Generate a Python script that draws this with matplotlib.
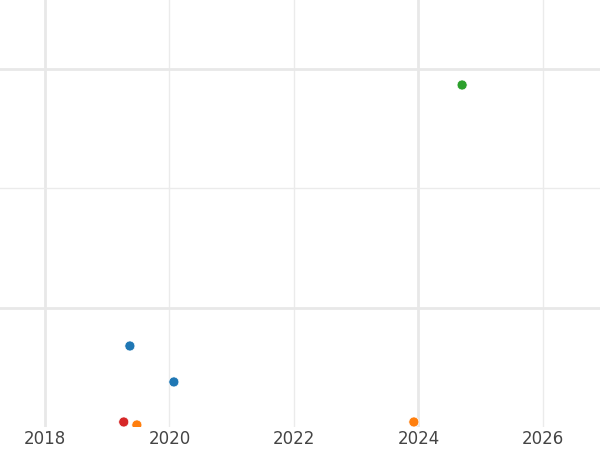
import matplotlib
matplotlib.use("Agg")
import matplotlib.pyplot as plt
import pandas as pd

plt.rcParams['font.family'] = ['DejaVu Sans']

# data
dates = ["2019-04-08", "2019-06-24", "2019-05-14", "2020-01-27", "2023-12-05", "2024-09-13"]
values = [0.042, 0.017, 0.678, 0.377, 0.042, 2.862]
colors = ["#d62728", "#ff7f0e", "#1f77b4", "#1f77b4", "#ff7f0e", "#2ca02c"]
x_ticks = ["2018-01-01", "2020-01-01", "2022-01-01", "2024-01-01", "2026-01-01"]
x_tick_labels = ["2018", "2020", "2022", "2024", "2026"]
y_ticks = [1, 2, 3]

fig = plt.figure(figsize=(6, 4.5), dpi=100)
ax = fig.add_axes([0, 23/450, 1, 427/450])

xd = pd.to_datetime(dates)
ax.scatter(xd, values, c=colors, s=52, edgecolors="white", linewidths=0.5, zorder=3, clip_on=True)

ax.set_xlim(pd.Timestamp("2017-04-12"), pd.Timestamp("2026-12-01"))
ax.set_ylim(0, 427/119.5)
ax.set_xticks(pd.to_datetime(x_ticks))
ax.set_xticklabels(x_tick_labels)
ax.set_yticks(y_ticks)
ax.set_yticklabels([])
ax.tick_params(axis="both", length=0)
ax.tick_params(axis="x", labelsize=12, labelcolor="#444444", pad=2.5)
for s in ax.spines.values():
    s.set_visible(False)
ax.grid(True, color="#ebebeb", linewidth=1.0, zorder=0)
ax.set_axisbelow(True)
xg = ax.xaxis.get_gridlines()
for i in (0, 3):
    xg[i].set_linewidth(2.0)
    xg[i].set_color("#e8e8e8")
yg = ax.yaxis.get_gridlines()
for i in (0, 2):
    yg[i].set_linewidth(2.0)
    yg[i].set_color("#e8e8e8")

fig.savefig("out.png", dpi=100)
